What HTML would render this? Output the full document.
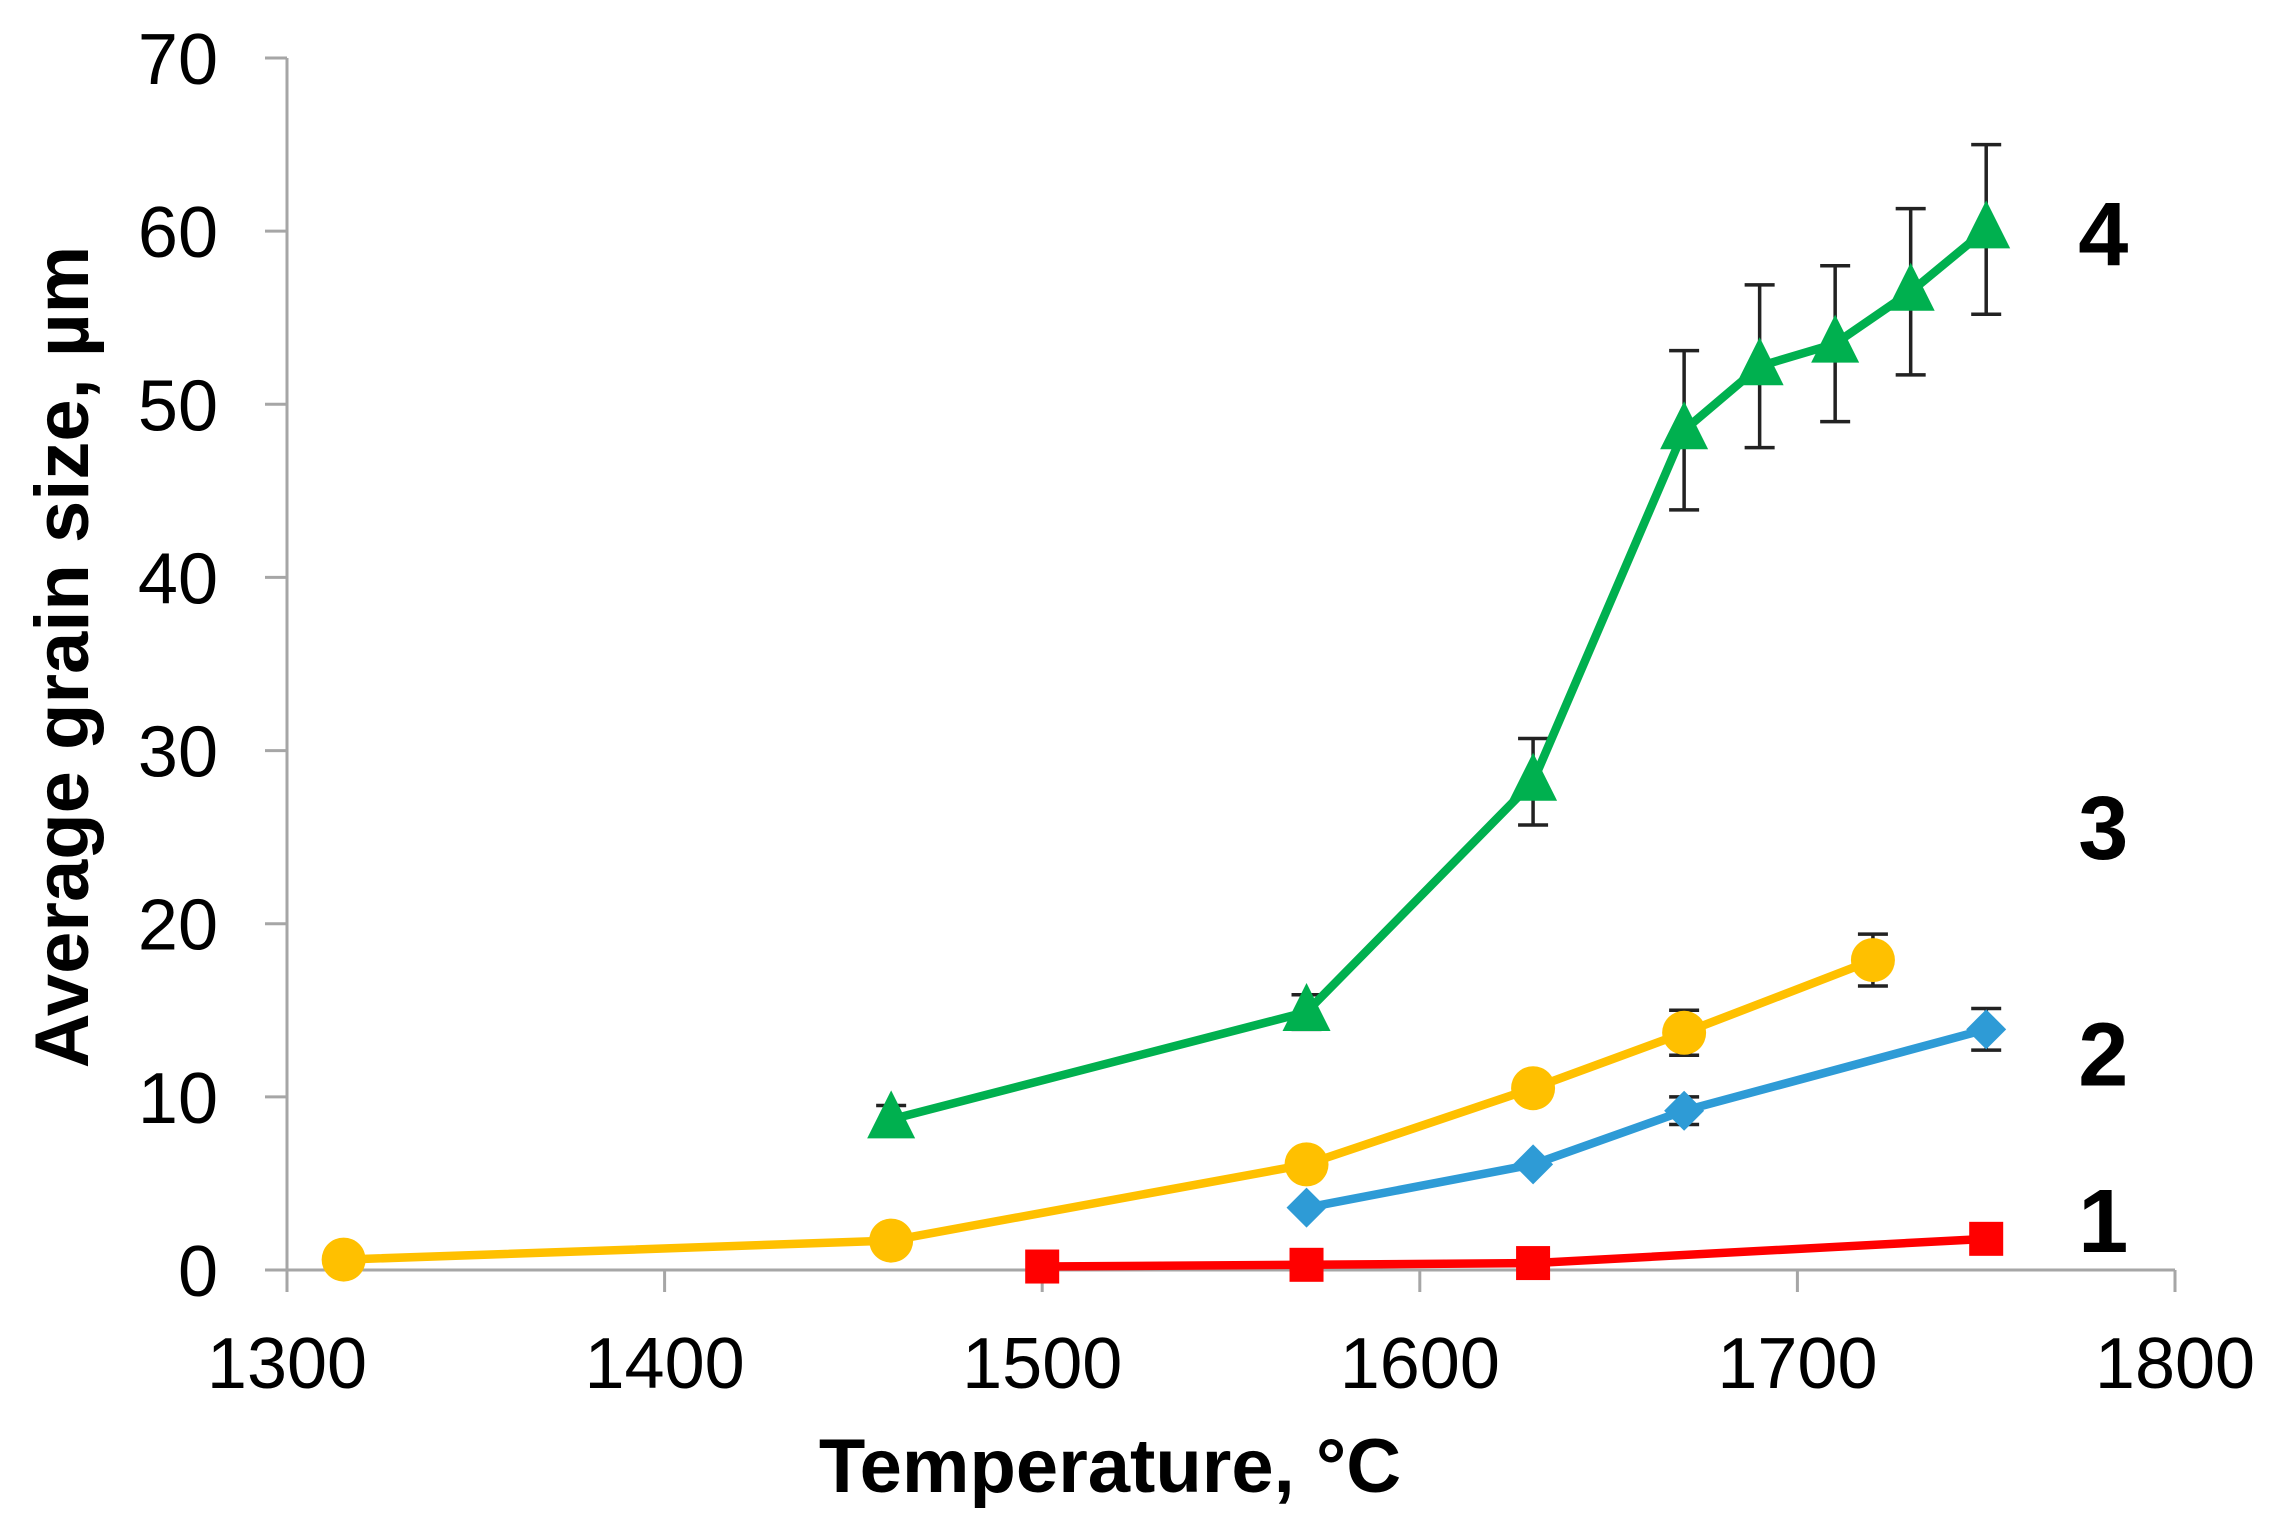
<!DOCTYPE html>
<html><head><meta charset="utf-8"><style>
html,body{margin:0;padding:0;background:#fff}
svg{display:block;font-family:"Liberation Sans",Arial,sans-serif}
</style></head><body>
<svg id="chart" width="2271" height="1526" viewBox="0 0 2271 1526">
<g id="axes"></g><g id="series"></g>
<text x="1110" y="1492" font-size="76" font-weight="bold" text-anchor="middle">Temperature, °C</text>
<text transform="translate(88,657) rotate(-90)" font-size="76" font-weight="bold" text-anchor="middle">Average grain size, µm</text>
</svg>
<script>
const xTicks=[1300,1400,1500,1600,1700,1800];
const yTicks=[0,10,20,30,40,50,60,70];
const s1x=[1500,1570,1630,1750];
const s1y=[0.2,0.3,0.4,1.8];
const s2x=[1570,1630,1670,1750];
const s2y=[3.6,6.1,9.2,13.9];
const s2e=[0,0,0.8,1.2];
const s3x=[1315,1460,1570,1630,1670,1720];
const s3y=[0.6,1.7,6.1,10.5,13.7,17.9];
const s3e=[0,0,0,0,1.3,1.5];
const s4x=[1460,1570,1630,1670,1690,1710,1730,1750];
const s4y=[8.7,14.9,28.2,48.5,52.2,53.5,56.5,60.1];
const s4e=[0.8,1,2.5,4.6,4.7,4.5,4.8,4.9];
const seriesLabels=["1","2","3","4"];
const labelPos=[[1750,2.9],[1750,12.5],[1750,25.6],[1750,59.9]];

const NS="http://www.w3.org/2000/svg";
const X=v=>287+(v-1300)*(2175-287)/500;
const Y=v=>1270-v*(1270-58)/70;
function mk(t,a,p){const e=document.createElementNS(NS,t);for(const k in a)e.setAttribute(k,a[k]);p.appendChild(e);return e;}
const ax=document.getElementById('axes'), sg=document.getElementById('series');
let l=mk('line',{x1:X(1300),y1:Y(0),x2:X(1800),y2:Y(0),stroke:'#a6a6a6','stroke-width':3},ax);


l=mk('line',{x1:X(1300),y1:Y(0),x2:X(1300),y2:Y(70),stroke:'#a6a6a6','stroke-width':3},ax);


xTicks.forEach(t=>{
 const k=mk('line',{x1:X(t),y1:Y(0),x2:X(t),y2:Y(0)+22,stroke:'#a6a6a6','stroke-width':3},ax);
 
 
 const tx=mk('text',{x:X(t),y:1388,'font-size':72,'text-anchor':'middle'},ax);tx.textContent=t;
 
 
});
yTicks.forEach(t=>{
 const k=mk('line',{x1:X(1300)-22,y1:Y(t),x2:X(1300),y2:Y(t),stroke:'#a6a6a6','stroke-width':3},ax);
 
 
 const tx=mk('text',{x:218,y:Y(t)+26,'font-size':72,'text-anchor':'end'},ax);tx.textContent=t;
 
 
});
function series(xs,ys,es,color,shape,name){
 const g=mk('g',{},sg);
 
 
 if(es) xs.forEach((x,i)=>{ if(!es[i])return;
  const px=X(x),a=Y(ys[i]+es[i]),b=Y(ys[i]-es[i]);
  const eb=mk('path',{d:`M${px},${a}V${b}M${px-15},${a}H${px+15}M${px-15},${b}H${px+15}`,stroke:'#222','stroke-width':3.5,fill:'none'},g);
  
  
 });
 const ln=mk('polyline',{points:xs.map((x,i)=>X(x)+','+Y(ys[i])).join(' '),fill:'none',stroke:color,'stroke-width':8.5,'stroke-linejoin':'round'},g);
 
 
 xs.forEach((x,i)=>{const px=X(x),py=Y(ys[i]);let m;
  if(shape==='sq')m=mk('rect',{x:px-17,y:py-17,width:34,height:34,fill:color},g);
  else if(shape==='di')m=mk('path',{d:`M${px},${py-20}L${px+20},${py}L${px},${py+20}L${px-20},${py}Z`,fill:color},g);
  else if(shape==='ci')m=mk('circle',{cx:px,cy:py,r:22,fill:color},g);
  else m=mk('path',{d:`M${px},${py-29}L${px+24},${py+19}L${px-24},${py+19}Z`,fill:color},g);
  
  
 });
}
series(s1x,s1y,null,'#ff0000','sq','series-1');
series(s2x,s2y,s2e,'#2e9bd6','di','series-2');
series(s3x,s3y,s3e,'#ffc000','ci','series-3');
series(s4x,s4y,s4e,'#00b04f','tr','series-4');
seriesLabels.forEach((s,i)=>{
 const t=mk('text',{x:X(labelPos[i][0])+92,y:Y(labelPos[i][1])+32,'font-size':90,'font-weight':'bold'},sg);
 t.textContent=s;
 
 
});
</script>
</body></html>
